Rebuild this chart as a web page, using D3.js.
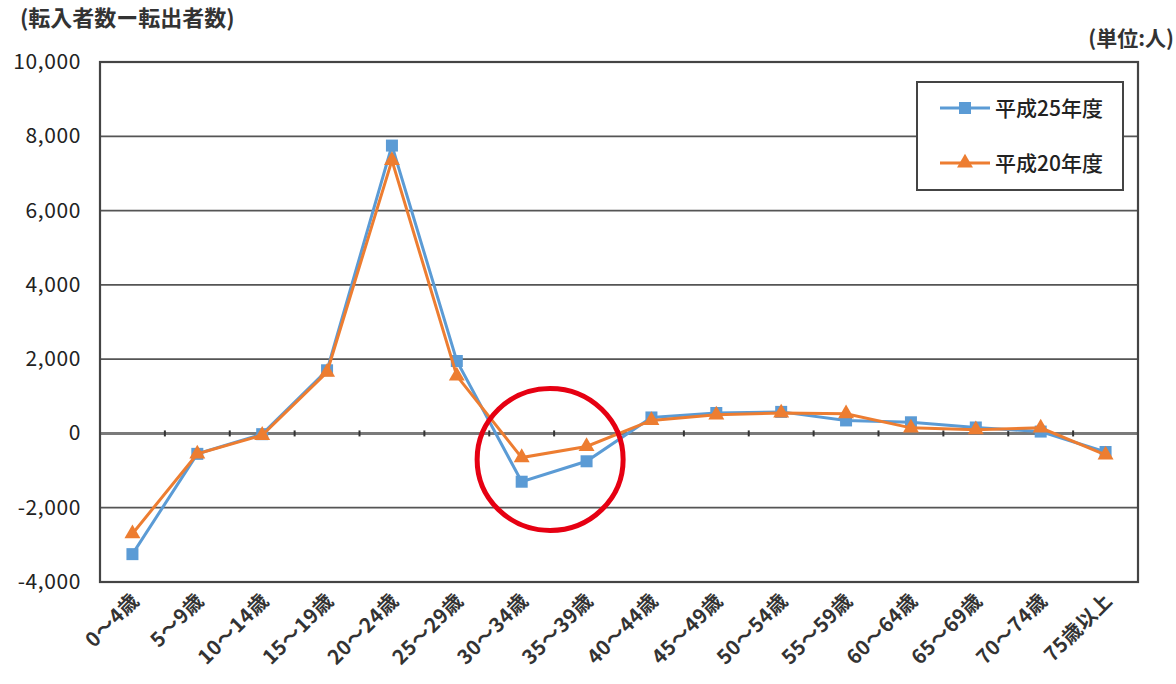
<!DOCTYPE html>
<html><head><meta charset="utf-8">
<script src="https://cdn.jsdelivr.net/npm/d3@7"></script>
<style>
body{margin:0;background:#fff;}
svg{display:block;font-family:"Noto Sans CJK JP","Noto Sans",sans-serif;}
</style></head>
<body><svg id="c" width="1176" height="684"></svg>
<script>
const categories = ["0～4歳","5～9歳","10～14歳","15～19歳","20～24歳","25～29歳","30～34歳","35～39歳","40～44歳","45～49歳","50～54歳","55～59歳","60～64歳","65～69歳","70～74歳","75歳以上"];
const seriesNames = ["平成25年度","平成20年度"];
const h25 = [-3250,-550,-20,1700,7750,1950,-1300,-750,430,550,580,350,300,160,50,-500];
const h20 = [-2700,-550,-50,1650,7350,1550,-650,-350,350,500,550,530,150,100,150,-580];
const yTicks = [-4000,-2000,0,2000,4000,6000,8000,10000];
const titleText = "(転入者数ー転出者数)";
const unitText = "(単位:人)";

const svg = d3.select("#c");
const L=100, R=1138, T=62, B=582;
const x = d3.scaleBand().domain(categories).range([L,R]).padding(0);
const y = d3.scaleLinear().domain([-4000,10000]).range([B,T]);
const blue="#5b9bd5", orange="#ed7d31";

svg.append("g").selectAll("line").data(yTicks.filter(d=>d!==0)).join("line")
  .attr("x1",L).attr("x2",R).attr("y1",d=>y(d)).attr("y2",d=>y(d))
  .attr("stroke","#555").attr("stroke-width",1.8);
svg.append("line").attr("x1",L).attr("x2",R).attr("y1",y(0)).attr("y2",y(0))
  .attr("stroke","#7a7a7a").attr("stroke-width",3);
const bounds = categories.map(c=>x(c)).concat([R]);
svg.append("g").selectAll("line").data(bounds).join("line")
  .attr("x1",d=>d).attr("x2",d=>d).attr("y1",y(0)-3).attr("y2",y(0)+3)
  .attr("stroke","#333").attr("stroke-width",2);
svg.append("rect").attr("x",L).attr("y",T).attr("width",R-L).attr("height",B-T)
  .attr("fill","none").attr("stroke","#444").attr("stroke-width",2.2);

svg.append("g").selectAll("text").data(yTicks).join("text")
  .attr("x",81).attr("y",d=>y(d)+7).attr("text-anchor","end")
  .attr("font-size",21).attr("fill","#222").attr("letter-spacing","0.6")
  .text(d=>d3.format(",")(d).replace("−","-"));

svg.append("g").selectAll("text").data(categories).join("text")
  .attr("transform",d=>`translate(${x(d)+x.bandwidth()/2+8},${B+20}) rotate(-45)`)
  .attr("text-anchor","end").attr("font-size",20).attr("font-weight","bold").attr("fill","#333")
  .attr("letter-spacing","0.5")
  .text(d=>d);

const cx = d=>x(d)+x.bandwidth()/2;
const line = d3.line().x((v,i)=>cx(categories[i])).y(v=>y(v));

svg.append("path").datum(h25).attr("d",line).attr("fill","none").attr("stroke",blue).attr("stroke-width",3);
svg.append("g").selectAll("rect").data(h25).join("rect")
  .attr("x",(v,i)=>cx(categories[i])-6).attr("y",v=>y(v)-6).attr("width",12).attr("height",12).attr("fill",blue);
svg.append("path").datum(h20).attr("d",line).attr("fill","none").attr("stroke",orange).attr("stroke-width",3);
const tri = d3.symbol().type(d3.symbolTriangle).size(110);
svg.append("g").selectAll("path").data(h20).join("path")
  .attr("d",tri).attr("transform",(v,i)=>`translate(${cx(categories[i])},${y(v)})`).attr("fill",orange);

const midX = (cx(categories[6])+cx(categories[7]))/2;
svg.append("ellipse").attr("cx",midX-4).attr("cy",y(-700)).attr("rx",73).attr("ry",71)
  .attr("fill","none").attr("stroke","#e60012").attr("stroke-width",5);

const lg = svg.append("g");
lg.append("rect").attr("x",917).attr("y",82).attr("width",206).attr("height",108)
  .attr("fill","#fff").attr("stroke","#444").attr("stroke-width",2);
const ly=[108,163];
[[blue,"sq"],[orange,"tri"]].forEach((s,i)=>{
  lg.append("line").attr("x1",940).attr("x2",990).attr("y1",ly[i]).attr("y2",ly[i]).attr("stroke",s[0]).attr("stroke-width",3);
  if(s[1]==="sq") lg.append("rect").attr("x",959).attr("y",ly[i]-6).attr("width",12).attr("height",12).attr("fill",s[0]);
  else lg.append("path").attr("d",tri).attr("transform",`translate(965,${ly[i]})`).attr("fill",s[0]);
  lg.append("text").attr("x",995).attr("y",ly[i]+8).attr("font-size",21).attr("fill","#222").attr("font-weight","500").text(seriesNames[i]);
});

svg.append("text").attr("x",20).attr("y",26).attr("font-size",22).attr("font-weight","bold").attr("fill","#333").text(titleText);
svg.append("text").attr("x",1174).attr("y",46).attr("text-anchor","end").attr("font-size",21).attr("font-weight","bold").attr("fill","#333").text(unitText);
</script></body></html>
